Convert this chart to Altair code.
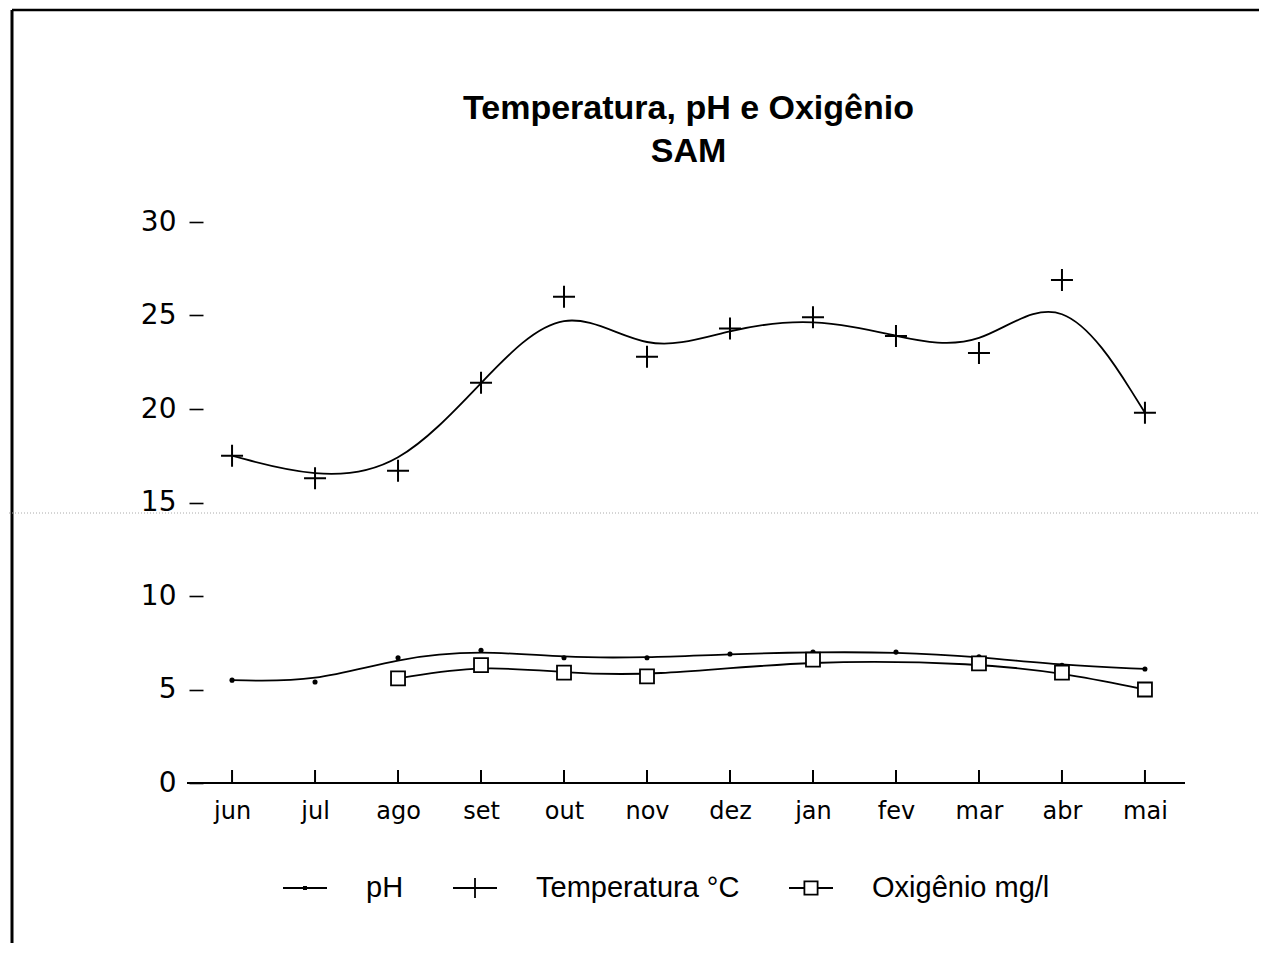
import altair as alt
import pandas as pd

# ---- data ----
months = ["jun", "jul", "ago", "set", "out", "nov", "dez", "jan", "fev", "mar", "abr", "mai"]
temperatura = [17.5, 16.3, 16.7, 21.4, 26.0, 22.8, 24.3, 24.9, 23.9, 23.0, 26.9, 19.8]
ph = [5.5, 5.4, 6.7, 7.1, 6.7, 6.7, 6.9, 7.0, 7.0, 6.75, 6.3, 6.1]
oxigenio = [None, None, 5.6, 6.3, 5.9, 5.7, None, 6.6, None, 6.4, 5.9, 5.0]
series = ["pH", "Temperatura °C", "Oxigênio mg/l"]
y_ticks = [0, 5, 10, 15, 20, 25, 30]
title_lines = ["Temperatura, pH e Oxigênio", "SAM"]

rows = []
for s, vals in zip(series, [ph, temperatura, oxigenio]):
    for m, v in zip(months, vals):
        rows.append({"mes": m, "serie": s, "valor": v})
df = pd.DataFrame(rows)
tick_df = pd.DataFrame({"mes": months})
one = pd.DataFrame({"k": [0]})

W, H = 971, 561

x_enc = alt.X(
    "mes:N", sort=months,
    scale=alt.Scale(type="point", padding=0.35),
    axis=alt.Axis(title=None, domain=False, ticks=False, labelAngle=0,
                  labelPadding=16, labelFont="DejaVu Sans", labelFontSize=24,
                  labelColor="black"),
)
y_enc = alt.Y(
    "valor:Q",
    scale=alt.Scale(domain=[0, 30], nice=False, zero=True),
    axis=alt.Axis(title=None, domain=False, values=y_ticks, grid=False,
                  tickSize=14, tickWidth=1.6, tickColor="black",
                  labelPadding=13, labelFont="DejaVu Sans", labelFontSize=28,
                  labelColor="black"),
)

base = alt.Chart(df)

lines = base.transform_filter("isValid(datum.valor)").mark_line(
    interpolate="basis", color="black", strokeWidth=1.8
).encode(x=x_enc, y=y_enc, detail="serie:N")

ph_pts = base.transform_filter(alt.datum.serie == "pH").mark_point(
    shape="circle", filled=True, size=26, color="black", opacity=1
).encode(x=x_enc, y=y_enc)

temp_pts = base.transform_filter(alt.datum.serie == "Temperatura °C").mark_point(
    shape="M-1,0H1M0,-1V1", filled=False, size=484, strokeWidth=2,
    color="black", opacity=1
).encode(x=x_enc, y=y_enc)

oxy_pts = base.transform_filter(
    (alt.datum.serie == "Oxigênio mg/l") & "isValid(datum.valor)"
).mark_point(
    shape="square", filled=True, fill="white", stroke="black",
    strokeWidth=1.8, size=196, opacity=1
).encode(x=x_enc, y=y_enc)

legend_paths = [
    "M-1,0H1M-0.05,-0.05H0.05V0.05H-0.05Z",
    "M-1,0H1M0,-0.45V0.45",
    "M-1,0H-0.3M0.3,0H1M-0.3,-0.3H0.3V0.3H-0.3Z",
]
legend_layer = base.transform_filter("false").mark_point(
    filled=False, opacity=1, strokeWidth=1.8, color="black"
).encode(
    x=x_enc, y=y_enc,
    shape=alt.Shape(
        "serie:N",
        scale=alt.Scale(domain=series, range=legend_paths),
        legend=alt.Legend(
            title=None, orient="none", legendX=79, legendY=643,
            direction="horizontal", symbolSize=1936, symbolStrokeWidth=1.8,
            symbolStrokeColor="black", symbolFillColor="transparent",
            symbolOpacity=1, labelFont="Liberation Sans", labelFontSize=29,
            labelColor="black", labelOffset=38, columnPadding=45, padding=0,
            labelLimit=0,
        ),
    ),
)

xticks = alt.Chart(tick_df).mark_rule(color="black", strokeWidth=2).encode(
    x=x_enc, y=alt.value(H - 13), y2=alt.value(H)
)
baseline = alt.Chart(one).mark_rule(color="black", strokeWidth=2).encode(
    x=alt.value(-16), x2=alt.value(W + 11), y=alt.value(H)
)

# scanned-page frame and fold line
frame_left = alt.Chart(one).mark_rule(color="black", strokeWidth=3).encode(
    x=alt.value(-191), y=alt.value(-212), y2=alt.value(H + 200)
)
frame_top = alt.Chart(one).mark_rule(color="black", strokeWidth=2.5).encode(
    x=alt.value(-191), x2=alt.value(1080), y=alt.value(-212)
)
fold = alt.Chart(one).mark_rule(color="#aaaaaa", strokeWidth=1, strokeDash=[1, 2]).encode(
    x=alt.value(-203), x2=alt.value(1080), y=alt.value(291)
)

chart = alt.layer(
    frame_left, frame_top, fold, baseline, xticks, lines,
    ph_pts, temp_pts, oxy_pts, legend_layer
).properties(
    width=W, height=H,
    title=alt.TitleParams(
        title_lines, font="Liberation Sans", fontSize=34, fontWeight="bold",
        lineHeight=43, anchor="middle", frame="group", offset=0, dy=160,
        color="black",
    ),
    autosize=alt.AutoSizeParams(type="none"),
    padding={"left": 195, "top": 214, "right": 85, "bottom": 160},
).configure_view(stroke=None)

chart.save("out.html", embed_options={"renderer": "svg", "actions": False})
